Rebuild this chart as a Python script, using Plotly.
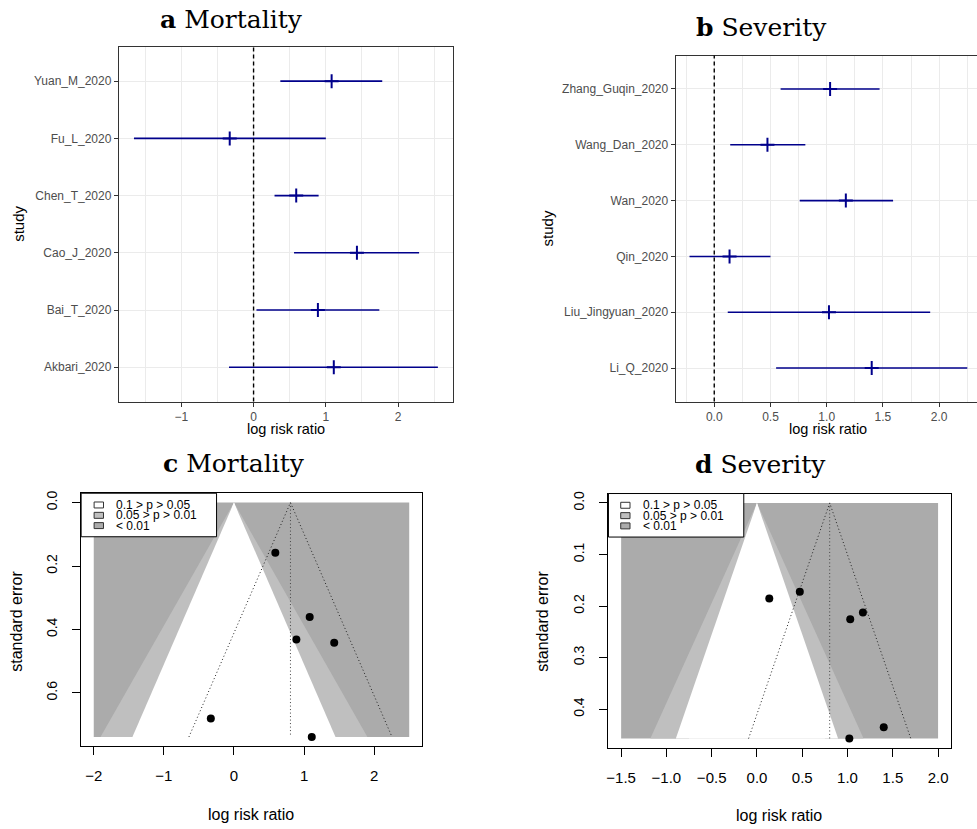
import plotly.graph_objects as go

W, H = 977, 829

# ---------------- data ----------------
mort_study = ["Akbari_2020", "Bai_T_2020", "Cao_J_2020", "Chen_T_2020", "Fu_L_2020", "Yuan_M_2020"]
mort_est = [1.11, 0.89, 1.43, 0.59, -0.33, 1.08]
mort_lo = [-0.34, 0.04, 0.56, 0.29, -1.655, 0.37]
mort_hi = [2.55, 1.74, 2.29, 0.90, 1.00, 1.78]
mort_se = [0.739, 0.432, 0.442, 0.158, 0.681, 0.361]
mort_pooled = 0.806
mort_funnel_xlim = [-2.0, 2.5]

sev_study = ["Li_Q_2020", "Liu_Jingyuan_2020", "Qin_2020", "Wan_2020", "Wang_Dan_2020", "Zhang_Guqin_2020"]
sev_est = [1.40, 1.02, 0.136, 1.17, 0.473, 1.03]
sev_lo = [0.55, 0.12, -0.22, 0.76, 0.142, 0.59]
sev_hi = [2.25, 1.92, 0.50, 1.59, 0.81, 1.47]
sev_se = [0.435, 0.457, 0.1855, 0.2126, 0.172, 0.2254]
sev_pooled = 0.803
sev_funnel_xlim = [-1.5, 2.0]

contour_z = [1.645, 1.96, 2.576]
contour_shade = ["#FFFFFF", "#BFBFBF", "#ABABAB"]
contour_label = ["0.1 > p > 0.05", "0.05 > p > 0.01", "< 0.01"]
NULL_EFFECT = 0.0
CI_Z = 1.96

SANS = "Liberation Sans"
SERIF = "DejaVu Serif"
NAVY = "#00008B"


def px(x):
    return x / W


def py(y):
    return 1 - y / H


fig = go.Figure()

# ---------------- forest plots (a, b) ----------------
def forest(study, est, lo, hi, ax):
    fig.add_trace(go.Scatter(
        x=est, y=study, mode="markers", xaxis="x" + ax, yaxis="y" + ax,
        marker=dict(symbol="cross-thin", size=10, color=NAVY, line=dict(width=2, color=NAVY)),
        error_x=dict(type="data", symmetric=False,
                     array=[h - e for h, e in zip(hi, est)],
                     arrayminus=[e - l for e, l in zip(est, lo)],
                     width=0, color=NAVY, thickness=1.6),
        showlegend=False, hoverinfo="skip"))


forest(mort_study, mort_est, mort_lo, mort_hi, "")
forest(sev_study, sev_est, sev_lo, sev_hi, "2")

for xr in ["x", "x2"]:
    fig.add_shape(type="line", xref=xr, yref=("y" if xr == "x" else "y2") + " domain",
                  x0=NULL_EFFECT, x1=NULL_EFFECT, y0=0, y1=1,
                  line=dict(color="black", width=1.4, dash="4px,3px"), layer="above")

gg_common = dict(showgrid=True, gridcolor="#EBEBEB", gridwidth=1.1, zeroline=False,
                 showline=True, linecolor="#333333", linewidth=1,
                 ticks="outside", ticklen=4, tickcolor="#333333", tickwidth=1,
                 tickfont=dict(family=SANS, size=12, color="#4D4D4D"))


def mrange(lo, hi, f=0.05):
    s = hi - lo
    return [lo - f * s, hi + f * s]


ra = mrange(min(mort_lo), max(mort_hi))
rb = mrange(min(sev_lo), max(sev_hi))

fig.update_layout(
    xaxis=dict(domain=[px(117), px(452)], anchor="y", range=ra, mirror=True,
               tickvals=[-1, 0, 1, 2],
               minor=dict(tickvals=[-1.5, -0.5, 0.5, 1.5, 2.5], showgrid=True,
                          gridcolor="#EBEBEB", gridwidth=0.6, ticks=""),
               **gg_common),
    yaxis=dict(domain=[py(400), py(44)], anchor="x", type="category",
               categoryorder="array", categoryarray=mort_study, range=[-0.6, 5.6],
               mirror=True, **gg_common),
    xaxis2=dict(domain=[px(675), 1.0], anchor="y2",
                range=[rb[0], rb[0] + (W - 675) / 112.7], mirror=True,
                tickvals=[0, 0.5, 1, 1.5, 2], tickformat=".1f",
                minor=dict(tickvals=[-0.25, 0.25, 0.75, 1.25, 1.75, 2.25], showgrid=True,
                           gridcolor="#EBEBEB", gridwidth=0.6, ticks=""),
                **gg_common),
    yaxis2=dict(domain=[py(400), py(52.7)], anchor="x2", type="category",
                categoryorder="array", categoryarray=sev_study, range=[-0.6, 5.6],
                mirror=False, **gg_common),
)

# ---------------- funnel plots (c, d) ----------------
def funnel(est, se, pooled, xlim, ax):
    semax = max(se)
    xa, ya = "x" + ax, "y" + ax
    # outermost region (< 0.01)
    fig.add_trace(go.Scatter(
        x=[xlim[0], xlim[1], xlim[1], xlim[0]], y=[0, 0, semax, semax],
        fill="toself", fillcolor=contour_shade[2], line=dict(width=0),
        mode="lines", xaxis=xa, yaxis=ya, showlegend=False, hoverinfo="skip"))
    for z, col in [(contour_z[2], contour_shade[1]), (contour_z[1], contour_shade[0]),
                   (contour_z[0], contour_shade[0])]:
        fig.add_trace(go.Scatter(
            x=[-z * semax, NULL_EFFECT, z * semax], y=[semax, 0, semax],
            fill="toself", fillcolor=col, line=dict(width=0),
            mode="lines", xaxis=xa, yaxis=ya, showlegend=False, hoverinfo="skip"))
    fig.add_trace(go.Scatter(
        x=[pooled - CI_Z * semax, pooled, pooled + CI_Z * semax], y=[semax, 0, semax],
        mode="lines", line=dict(color="#222222", width=1, dash="1px,2.5px"),
        xaxis=xa, yaxis=ya, showlegend=False, hoverinfo="skip"))
    fig.add_trace(go.Scatter(
        x=[pooled, pooled], y=[0, semax],
        mode="lines", line=dict(color="#444444", width=1, dash="1px,2.5px"),
        xaxis=xa, yaxis=ya, showlegend=False, hoverinfo="skip"))
    fig.add_trace(go.Scatter(
        x=est, y=se, mode="markers", marker=dict(color="black", size=8),
        xaxis=xa, yaxis=ya, showlegend=False, hoverinfo="skip"))


funnel(mort_est, mort_se, mort_pooled, mort_funnel_xlim, "3")
funnel(sev_est, sev_se, sev_pooled, sev_funnel_xlim, "4")

base_common = dict(showgrid=False, zeroline=False, showline=True, linecolor="black",
                   linewidth=1, mirror=True, ticks="outside", ticklen=8, tickcolor="black",
                   tickwidth=1)

rc = mrange(*mort_funnel_xlim, f=0.04)
rd = mrange(*sev_funnel_xlim, f=0.04)
yc = mrange(0, max(mort_se), f=0.04)
yd = mrange(0, max(sev_se), f=0.04)

fig.update_layout(
    xaxis3=dict(domain=[px(79.3), px(420.7)], anchor="y3", range=rc,
                tickvals=[-2, -1, 0, 1, 2], ticklabelstandoff=8,
                tickfont=dict(family=SANS, size=15, color="black"), **base_common),
    yaxis3=dict(domain=[py(746), py(492)], anchor="x3", range=[yc[1], yc[0]],
                tickvals=[0, 0.2, 0.4, 0.6], tickformat=".1f", tickangle=-90,
                ticklabelstandoff=10,
                tickfont=dict(family=SANS, size=14, color="black"), **base_common),
    xaxis4=dict(domain=[px(607.7), px(950.7)], anchor="y4", range=rd,
                tickvals=[-1.5, -1.0, -0.5, 0, 0.5, 1.0, 1.5, 2.0], tickformat=".1f",
                ticklabelstandoff=8,
                tickfont=dict(family=SANS, size=15, color="black"), **base_common),
    yaxis4=dict(domain=[py(747.7), py(492.3)], anchor="x4", range=[yd[1], yd[0]],
                tickvals=[0, 0.1, 0.2, 0.3, 0.4], tickformat=".1f", tickangle=-90,
                ticklabelstandoff=10,
                tickfont=dict(family=SANS, size=14, color="black"), **base_common),
)

# ---------------- manual base-R style legends ----------------
def legend_box(x0, y0, x1, y1, sw_x0, sw_x1, text_x, rows):
    fig.add_shape(type="rect", xref="paper", yref="paper",
                  x0=px(x0), x1=px(x1), y0=py(y1), y1=py(y0),
                  fillcolor="white", line=dict(color="black", width=1), layer="above")
    for yc_, col, lab in zip(rows, contour_shade, contour_label):
        fig.add_shape(type="rect", xref="paper", yref="paper",
                      x0=px(sw_x0), x1=px(sw_x1), y0=py(yc_ + 3), y1=py(yc_ - 3),
                      fillcolor=col, line=dict(color="#333333", width=1), layer="above")
        fig.add_annotation(x=px(text_x), y=py(yc_), xref="paper", yref="paper",
                           text=lab, showarrow=False, xanchor="left", yanchor="middle",
                           borderpad=0,
                           font=dict(family=SANS, size=12, color="black"))


legend_box(79.3, 492, 215, 535.7, 92.3, 101.7, 113.5, [503.8, 514.2, 524.5])
legend_box(607.7, 492.3, 743.3, 536, 620, 629.3, 641, [504.1, 514.5, 524.8])

# ---------------- titles / axis titles ----------------
def ann(x, y, text, size, family=SANS, angle=0):
    fig.add_annotation(x=px(x), y=py(y), xref="paper", yref="paper", text=text,
                       showarrow=False, textangle=angle, xanchor="center", yanchor="middle",
                       borderpad=0,
                       font=dict(family=family, size=size, color="black"))


ann(230, 17, "<b>a</b> Mortality", 25, SERIF)
ann(761, 25, "<b>b</b> Severity", 25, SERIF)
ann(232, 462, "<b>c</b> Mortality", 25, SERIF)
ann(760, 463, "<b>d</b> Severity", 25, SERIF)

ann(284.5, 428, "log risk ratio", 14.5)
ann(16.7, 222, "study", 15, angle=-90)
ann(828, 428, "log risk ratio", 14.5)
ann(546.7, 226.7, "study", 15, angle=-90)

ann(250, 814, "log risk ratio", 16)
ann(15, 620, "standard error", 16, angle=-90)
ann(779, 815, "log risk ratio", 16)
ann(542, 620, "standard error", 16, angle=-90)

fig.update_layout(width=W, height=H, margin=dict(l=0, r=0, t=0, b=0),
                  plot_bgcolor="white", paper_bgcolor="white", showlegend=False)

fig.write_html("out.html")
